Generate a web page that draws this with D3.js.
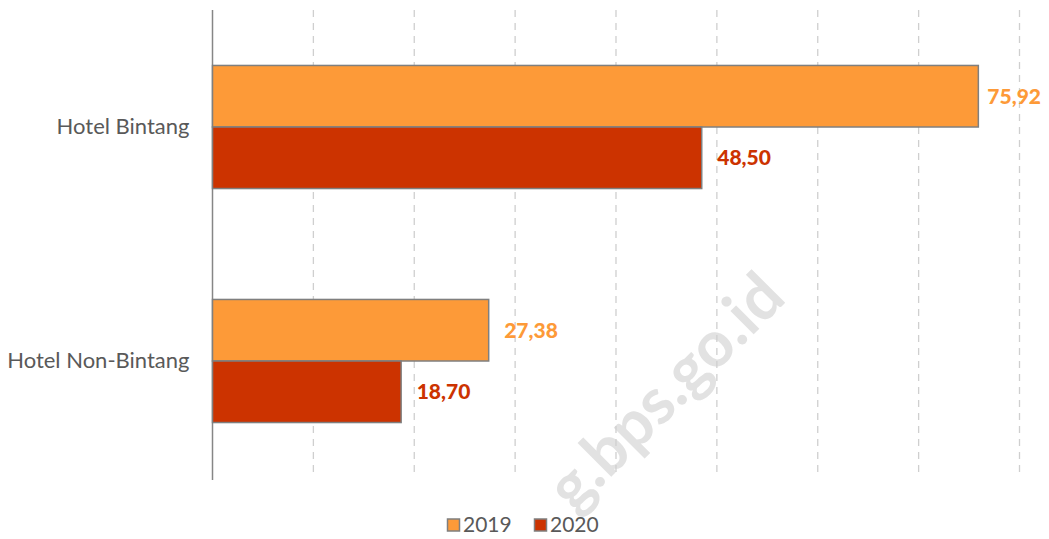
<!DOCTYPE html>
<html>
<head>
<meta charset="utf-8">
<script src="https://cdn.jsdelivr.net/npm/d3@7"></script>
<style>
  body { margin: 0; background: #fff; }
  text { font-family: Lato, "Open Sans", sans-serif; }
</style>
</head>
<body>
<div id="chart"></div>
<script>
// data
var categories = ["Hotel Bintang", "Hotel Non-Bintang"];
var seriesNames = ["2019", "2020"];
var values2019 = [75.92, 27.38];
var values2020 = [48.50, 18.70];
var tickValues = [0, 10, 20, 30, 40, 50, 60, 70, 80];
var colors = ["#fd9a38", "#cc3300"];

var W = 1049, H = 539;
var margin = {top: 10, right: 30, bottom: 61, left: 212};

var svg = d3.select("#chart")
  .append("svg")
    .attr("width", W)
    .attr("height", H);

// scales
var x = d3.scaleLinear()
  .domain([0, 80])
  .range([margin.left, 1019]);

var y = d3.scaleBand()
  .domain(categories)
  .range([margin.top, H - margin.bottom])
  .paddingInner(0.474)
  .paddingOuter(0.237);

var sub = d3.scaleBand()
  .domain(seriesNames)
  .range([0, y.bandwidth()]);

// watermark
svg.append("text")
  .attr("transform", "translate(788,300) rotate(-45)")
  .attr("text-anchor", "end")
  .style("font-size", "64px")
  .style("font-weight", "bold")
  .attr("fill", "#e2e2e2")
  .text("g.bps.go.id");

// gridlines
svg.append("g")
  .selectAll("line")
  .data(tickValues.slice(1))
  .enter()
  .append("line")
    .attr("x1", function(d) { return x(d) + 0.5; })
    .attr("x2", function(d) { return x(d) + 0.5; })
    .attr("y1", margin.top)
    .attr("y2", 478)
    .attr("stroke", "#cfcfcf")
    .attr("stroke-width", 1.3)
    .attr("stroke-dasharray", "7,6");

// y axis
var yAxis = svg.append("g")
  .attr("transform", "translate(" + (margin.left + 0.5) + ",0)")
  .call(d3.axisLeft(y).tickSize(0).tickPadding(23));
yAxis.select(".domain")
  .attr("d", "M0," + margin.top + "V480")
  .attr("stroke", "#868686")
  .attr("stroke-width", 1.5);
yAxis.selectAll("text")
  .style("font-size", "22px")
  .attr("fill", "#595959")
  .attr("dy", "0.32em");

// bars
var rows = [];
categories.forEach(function(c, i) {
  rows.push({cat: c, s: "2019", v: values2019[i], k: 0});
  rows.push({cat: c, s: "2020", v: values2020[i], k: 1});
});

svg.selectAll("rect.bar")
  .data(rows)
  .enter()
  .append("rect")
    .attr("class", "bar")
    .attr("x", x(0) + 0.5)
    .attr("y", function(d) { return y(d.cat) + sub(d.s); })
    .attr("width", function(d) { return x(d.v) - x(0); })
    .attr("height", sub.bandwidth())
    .attr("fill", function(d) { return colors[d.k]; })
    .attr("stroke", "#7f7f7f")
    .attr("stroke-width", 1.5);

// value labels (pushed back inside the frame when they would run off)
svg.selectAll("text.val")
  .data(rows)
  .enter()
  .append("text")
    .attr("class", "val")
    .attr("y", function(d) { return y(d.cat) + sub(d.s) + sub.bandwidth() / 2; })
    .attr("dy", "0.35em")
    .style("font-size", "21px")
    .style("font-weight", "900")
    .attr("fill", function(d) { return colors[d.k]; })
    .text(function(d) { return d3.format(".2f")(d.v).replace(".", ","); })
    .attr("x", function(d) {
      var w = this.getComputedTextLength();
      return Math.min(x(d.v) + 16, 1041 - w);
    });

// legend
var legend = svg.append("g")
  .attr("transform", "translate(447,525)");
var item = legend.selectAll("g")
  .data(seriesNames)
  .enter()
  .append("g")
    .attr("transform", function(d, i) { return "translate(" + (i * 87) + ",0)"; });
item.append("rect")
  .attr("x", 0.5)
  .attr("y", -6)
  .attr("width", 12)
  .attr("height", 12)
  .attr("fill", function(d, i) { return colors[i]; })
  .attr("stroke", "#7f7f7f")
  .attr("stroke-width", 1.5);
item.append("text")
  .attr("x", 16)
  .attr("dy", "0.35em")
  .style("font-size", "21px")
  .attr("fill", "#595959")
  .text(function(d) { return d; });
</script>
</body>
</html>
